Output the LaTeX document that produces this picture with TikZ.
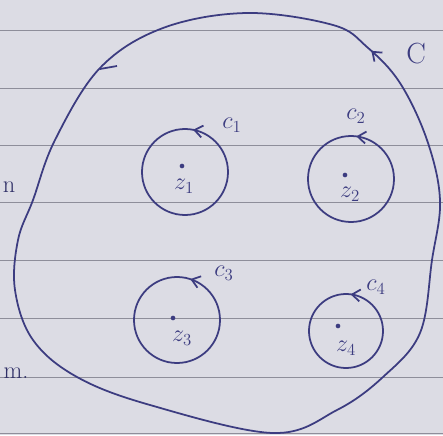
\documentclass[tikz,border=0pt]{standalone}
\usetikzlibrary{decorations.markings,arrows.meta}
\definecolor{ink}{HTML}{3C3C80}
\definecolor{paper}{HTML}{DCDCE4}
\definecolor{ruling}{HTML}{8E8E9A}
\begin{document}
\begin{tikzpicture}[x=0.03cm,y=0.03cm,font=\huge,
    pen/.style={ink,line width=1.5pt},
    ptdot/.style={circle,fill=ink,inner sep=1.4pt},
    ccwtip/.style={postaction={decorate},decoration={markings,
      mark=at position #1 with {\arrow{Straight Barb[length=2.4mm,width=3.6mm]}}}},
    revtip/.style={postaction={decorate},decoration={markings,
      mark=at position #1 with {\arrowreversed{Straight Barb[length=2.4mm,width=3.6mm]}}}}]
    % --- Paper ---
    \fill[paper] (0,0) rectangle (443,435);
    \useasboundingbox (0,0) rectangle (443,435);
    \foreach \y in {2, 58, 117, 175, 233, 290, 347, 405} {
      \draw[ruling,line width=0.8pt] (0,\y) -- (443,\y);
    }
    \node[ink!80!black] (mn) at (9,248) {n};
    \node[ink!80!black] (mm) at (16,62) {m.};

    % --- Outer contour C ---
    \draw[pen,revtip=0.035] plot[smooth cycle,tension=0.6] coordinates {
      (247,422) (333,410) (367,388) (400,352) (427,295) (440,235)
      (432,175) (420,102) (383,58) (337,25) (273,2) (150,30)
      (77,58) (33,95) (15,145) (18,195) (33,235) (55,295)
      (100,367) (163,407)};
    \draw[pen] (100,366) -- (117,369);
    \node[ink,font=\Huge] (C) at (416,381) {C};

    % --- Circle C1 ---
    \draw[pen,ccwtip=0.22] (185,263) circle (43);
    \node[ptdot] (p1) at (182,269) {};
    \node[ink] (z1) at (184,249) {$z_1$};
    \node[ink] (c1) at (232,310) {$c_1$};

    % --- Circle C2 ---
    \draw[pen,ccwtip=0.23] (351,256) circle (43);
    \node[ptdot] (p2) at (345,260) {};
    \node[ink] (z2) at (350,241) {$z_2$};
    \node[ink] (c2) at (356,319) {$c_2$};

    % --- Circle C3 ---
    \draw[pen,ccwtip=0.2] (177,115) circle (43);
    \node[ptdot] (p3) at (173,117) {};
    \node[ink] (z3) at (182,97) {$z_3$};
    \node[ink] (c3) at (224,162) {$c_3$};

    % --- Circle C4 ---
    \draw[pen,ccwtip=0.23] (346,104) circle (37);
    \node[ptdot] (p4) at (338,109) {};
    \node[ink] (z4) at (346,87) {$z_4$};
    \node[ink] (c4) at (376,148) {$c_4$};
\end{tikzpicture}
\end{document}
